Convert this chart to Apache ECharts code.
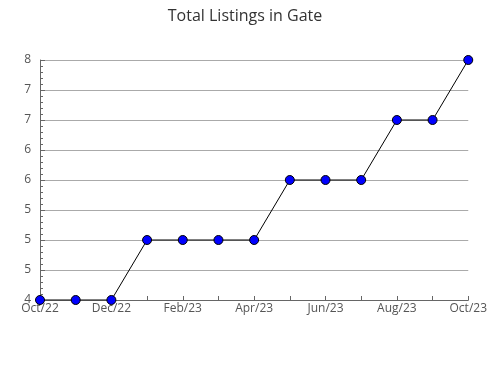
<!DOCTYPE html>
<html><head><meta charset="utf-8">
<script src="https://cdn.jsdelivr.net/npm/echarts@6/dist/echarts.min.js"></script>
<style>html,body{margin:0;padding:0;background:#fff}#c{width:490px;height:380px}</style>
</head><body><div id="c"></div>
<script>
const titleText = 'Total Listings in Gate';
const categories = ['Oct/22','Nov/22','Dec/22','Jan/23','Feb/23','Mar/23','Apr/23','May/23','Jun/23','Jul/23','Aug/23','Sep/23','Oct/23'];
const listings = [4,4,4,5,5,5,5,6,6,6,7,7,8];
const yTickLabels = ['4','5','5','5','6','6','7','7','8'];
const yMin = 4, yMax = 8, yStep = 0.5;

const chart = echarts.init(document.getElementById('c'));
chart.setOption({
  animation: false,
  textStyle: {fontFamily: 'Open Sans'},
  title: {text: titleText, left: 'center', top: 3,
    textStyle: {fontFamily: 'Open Sans', fontSize: 16, fontWeight: 'normal', color: '#333'}},
  grid: {left: 40, right: 20, top: 60, bottom: 80},
  xAxis: {type: 'category', data: categories, boundaryGap: false,
    axisLine: {lineStyle: {color: '#666', width: 1}},
    axisTick: {show: true, inside: true, length: 4, interval: 0, lineStyle: {color: '#666'}},
    axisLabel: {interval: 1, color: '#555', fontSize: 12, margin: 3},
    splitLine: {show: false}},
  yAxis: {type: 'value', min: yMin, max: yMax, interval: yStep,
    axisLine: {show: true, lineStyle: {color: '#666', width: 1}},
    axisTick: {show: true, inside: true, length: 5, lineStyle: {color: '#666'}},
    minorTick: {show: true, splitNumber: 5, length: 3, lineStyle: {color: '#666'}},
    axisLabel: {color: '#555', fontSize: 12, margin: 9,
      formatter: v => yTickLabels[Math.round((v - yMin) / yStep)]},
    splitLine: {show: true, lineStyle: {color: '#aaa', width: 1}}},
  series: [{type: 'line', data: listings, symbol: 'circle', symbolSize: 9,
    lineStyle: {color: '#000', width: 1},
    itemStyle: {color: '#0000ff', borderColor: '#000', borderWidth: 1}}]
});
</script></body></html>
